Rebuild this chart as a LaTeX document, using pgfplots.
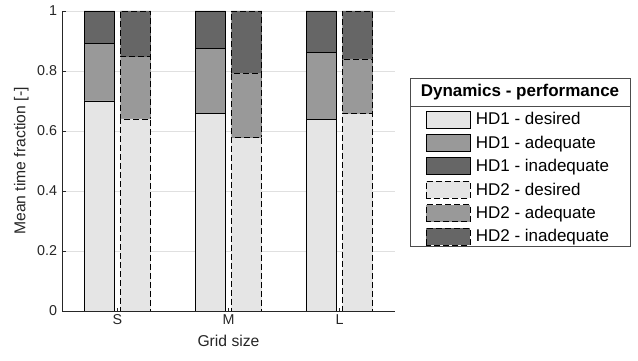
\documentclass[border=0pt]{standalone}
\usepackage{pgfplots}
\usepackage{pgfplotstable}
\pgfplotsset{compat=1.18}
\usepackage{fontspec}
\setmainfont{Liberation Sans}

\definecolor{desired}{gray}{0.90}
\definecolor{adequate}{gray}{0.60}
\definecolor{inadequate}{gray}{0.40}
\definecolor{axisgray}{gray}{0.15}
\definecolor{gridgray}{gray}{0.88}

% Mean time fraction per performance level, one table per handling device
\pgfplotstableread{
x desired adequate inadequate
1 0.700 0.191 0.109
2 0.659 0.215 0.126
3 0.638 0.225 0.137
}\hdone
\pgfplotstableread{
x desired adequate inadequate
1 0.640 0.207 0.153
2 0.579 0.214 0.207
3 0.657 0.183 0.160
}\hdtwo

\pgfplotsset{
  common/.style={
    width=333bp, height=300bp, scale only axis,
    at={(62bp,50bp)}, anchor=south west,
    xmin=0.5, xmax=3.5, ymin=0, ymax=1,
    ybar stacked, bar width=0.275,
  },
  segone/.style={draw=black, line width=0.8bp, fill=#1},
  segtwo/.style={draw=black, line width=0.8bp, dash pattern=on 6bp off 3bp, fill=#1},
  boxlegend/.style={legend image code/.code={%
      \draw[##1] (0bp,-8.5bp) rectangle (44bp,8.5bp);}},
}

\newcommand{\legfont}{\fontsize{17bp}{20bp}\selectfont}

\begin{document}
\begin{tikzpicture}
\useasboundingbox (0,0) rectangle (638bp,361bp);

% HD1 stacks, axes, grid and labels
\begin{axis}[
  common,
  bar shift=-0.163,
  axis x line*=bottom, axis y line*=left,
  axis line style={axisgray, line width=0.8bp},
  xtick={1,2,3}, xticklabels={S,M,L},
  ytick={0,0.2,0.4,0.6,0.8,1},
  ymajorgrids, grid style={gridgray, line width=0.8bp},
  tick align=inside, major tick length=3.5bp,
  tick style={axisgray, line width=0.8bp},
  tick label style={font=\fontsize{14.3bp}{17bp}\selectfont, text=axisgray},
  /pgf/number format/assume math mode=true,
  yticklabel style={xshift=-1.5bp},
  label style={font=\fontsize{15.7bp}{18bp}\selectfont, text=axisgray},
  xlabel={Grid size},
  ylabel={Mean time fraction [-]},
  xlabel style={at={(axis description cs:0.5,-0.1)}, anchor=center},
  ylabel style={at={(axis description cs:-0.122,0.5)}, anchor=center},
]
\addplot[segone=desired]    table[x=x, y=desired]    {\hdone};
\addplot[segone=adequate]   table[x=x, y=adequate]   {\hdone};
\addplot[segone=inadequate] table[x=x, y=inadequate] {\hdone};
\end{axis}

% HD2 stacks and the legend for both devices
\begin{axis}[
  common,
  bar shift=0.163,
  hide axis,
  boxlegend,
  legend cell align=left,
  legend style={draw=none, fill=none, inner sep=0pt, outer sep=0pt,
    column sep=5bp, row sep=5.6bp,
    nodes={inner sep=0pt, outer sep=0pt, font=\legfont, text=black},
    at={(axis description cs:1.0931,0.6683)}, anchor=north west},
]
\addlegendimage{segone=desired}
\addlegendentry{HD1 - desired}
\addlegendimage{segone=adequate}
\addlegendentry{HD1 - adequate}
\addlegendimage{segone=inadequate}
\addlegendentry{HD1 - inadequate}
\addplot[segtwo=desired]    table[x=x, y=desired]    {\hdtwo};
\addlegendentry{HD2 - desired}
\addplot[segtwo=adequate]   table[x=x, y=adequate]   {\hdtwo};
\addlegendentry{HD2 - adequate}
\addplot[segtwo=inadequate] table[x=x, y=inadequate] {\hdtwo};
\addlegendentry{HD2 - inadequate}
\end{axis}

% legend frame with its title row
\draw[black!70, line width=0.8bp] (410bp,283bp) rectangle (630bp,115bp);
\draw[black!70, line width=0.8bp] (410bp,255bp) -- (630bp,255bp);
\node[font=\legfont\bfseries, inner sep=0pt] at (520bp,269bp) {Dynamics - performance};
\end{tikzpicture}
\end{document}
